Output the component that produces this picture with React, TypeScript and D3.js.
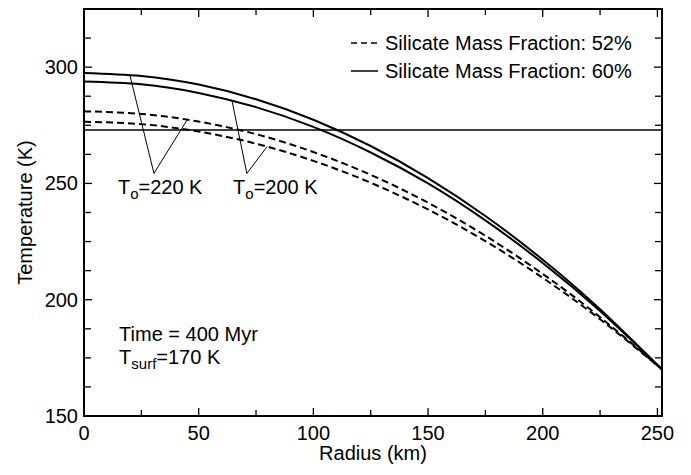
import * as d3 from "d3"

// radius samples (km)
const radius = [0, 25, 50, 75, 100, 125, 150, 175, 200, 225, 252]

// temperature profiles (K)
const solid220 = [297.5, 296.2, 292.5, 286.2, 277.4, 266.1, 252.3, 236.0, 217.2, 195.9, 170]
const solid200 = [293.8, 292.6, 288.9, 282.8, 274.3, 263.3, 250.0, 234.1, 215.8, 195.1, 170]
const dashed220 = [281.0, 279.9, 276.6, 271.2, 263.5, 253.7, 241.7, 227.5, 211.1, 192.5, 170]
const dashed200 = [276.5, 275.5, 272.3, 267.1, 259.7, 250.3, 238.8, 225.2, 209.4, 191.6, 170]

const meltLine = 273

const xMajor = [0, 50, 100, 150, 200, 250]
const xMinor = [25, 75, 125, 175, 225]
const yMajor = [150, 200, 250, 300]
const yMinor = [162.5, 175, 187.5, 212.5, 225, 237.5, 262.5, 275, 287.5, 312.5]

const legendItems = ["Silicate Mass Fraction: 52%", "Silicate Mass Fraction: 60%"]

// leader lines: [apex, target A, target B] in (radius, temperature)
const leader220 = [[30.5, 254.3], [20, 296.6], [45, 277.4]]
const leader200 = [[71, 254.3], [64.5, 285.7], [79.8, 265.8]]

const W = 691
const H = 475
const font = "'Liberation Sans', Arial, Helvetica, sans-serif"

export default function App() {
  const x = d3.scaleLinear().domain([0, 252]).range([84, 662])
  const y = d3.scaleLinear().domain([150, 325]).range([416, 9])

  const line = d3
    .line<number>()
    .x((_, i) => x(radius[i]))
    .y((d) => y(d))
    .curve(d3.curveNatural)

  const leaderPath = (pts: number[][]) =>
    `M${x(pts[1][0])},${y(pts[1][1])}L${x(pts[0][0])},${y(pts[0][1])}L${x(pts[2][0])},${y(pts[2][1])}`

  const [x0, x1] = x.range()
  const [y0, y1] = y.range()

  return (
    <svg
      width={W}
      height={H}
      style={{ position: "absolute", left: 0, top: 0, background: "#fff" }}
      fontFamily={font}
    >
      <defs>
        <clipPath id="plot">
          <rect x={x0} y={y1} width={x1 - x0} height={y0 - y1} />
        </clipPath>
      </defs>

      {/* curves */}
      <g clipPath="url(#plot)" fill="none" stroke="#000">
        <line x1={x0} x2={x1} y1={y(meltLine)} y2={y(meltLine)} strokeWidth={1.4} />
        <path d={line(solid220) ?? ""} strokeWidth={2} />
        <path d={line(solid200) ?? ""} strokeWidth={2} />
        <path d={line(dashed220) ?? ""} strokeWidth={2} strokeDasharray="7,4" />
        <path d={line(dashed200) ?? ""} strokeWidth={2} strokeDasharray="7,4" />
        <path d={leaderPath(leader220)} strokeWidth={1} />
        <path d={leaderPath(leader200)} strokeWidth={1} />
      </g>

      {/* ticks, all four sides, pointing in */}
      <g stroke="#000" strokeWidth={1.3}>
        {xMajor.map((v) => (
          <g key={"xm" + v}>
            <line x1={x(v)} x2={x(v)} y1={y0} y2={y0 - 8} />
            <line x1={x(v)} x2={x(v)} y1={y1} y2={y1 + 8} />
          </g>
        ))}
        {xMinor.map((v) => (
          <g key={"xn" + v}>
            <line x1={x(v)} x2={x(v)} y1={y0} y2={y0 - 6} />
            <line x1={x(v)} x2={x(v)} y1={y1} y2={y1 + 6} />
          </g>
        ))}
        {yMajor.map((v) => (
          <g key={"ym" + v}>
            <line x1={x0} x2={x0 + 8} y1={y(v)} y2={y(v)} />
            <line x1={x1} x2={x1 - 8} y1={y(v)} y2={y(v)} />
          </g>
        ))}
        {yMinor.map((v) => (
          <g key={"yn" + v}>
            <line x1={x0} x2={x0 + 7} y1={y(v)} y2={y(v)} />
            <line x1={x1} x2={x1 - 7} y1={y(v)} y2={y(v)} />
          </g>
        ))}
      </g>

      <rect x={x0} y={y1} width={x1 - x0} height={y0 - y1} fill="none" stroke="#000" strokeWidth={2} />

      {/* tick labels */}
      <g fontSize={20} fill="#000">
        {xMajor.map((v) => (
          <text key={"xl" + v} x={x(v)} y={y0 + 24} textAnchor="middle">
            {v}
          </text>
        ))}
        {yMajor.map((v) => (
          <text key={"yl" + v} x={x0 - 6} y={y(v) + 7} textAnchor="end">
            {v}
          </text>
        ))}
      </g>

      {/* axis titles */}
      <text x={(x0 + x1) / 2} y={460} textAnchor="middle" fontSize={20}>
        Radius (km)
      </text>
      <text
        transform={`translate(32,${(y0 + y1) / 2}) rotate(-90)`}
        textAnchor="middle"
        fontSize={20}
      >
        Temperature (K)
      </text>

      {/* legend */}
      <g fontSize={20}>
        {legendItems.map((label, i) => (
          <g key={label} transform={`translate(351,${50 + i * 28})`}>
            <line
              x1={0}
              x2={27}
              y1={-7}
              y2={-7}
              stroke="#000"
              strokeWidth={1.5}
              strokeDasharray={i === 0 ? "6,4" : undefined}
            />
            <text x={34} y={0}>
              {label}
            </text>
          </g>
        ))}
      </g>

      {/* leader labels */}
      <g fontSize={20}>
        <text x={x(14.8)} y={y(245.4)}>
          T<tspan fontSize={15} dy={5}>o</tspan>
          <tspan dy={-5}>=220 K</tspan>
        </text>
        <text x={x(65)} y={y(245.4)}>
          T<tspan fontSize={15} dy={5}>o</tspan>
          <tspan dy={-5}>=200 K</tspan>
        </text>
      </g>

      {/* run info */}
      <g fontSize={20}>
        <text x={x(15.3)} y={y(182.2)}>
          Time = 400 Myr
        </text>
        <text x={x(15.3)} y={y(172.4)}>
          T<tspan fontSize={15} dy={5}>surf</tspan>
          <tspan dy={-5}>=170 K</tspan>
        </text>
      </g>
    </svg>
  )
}
